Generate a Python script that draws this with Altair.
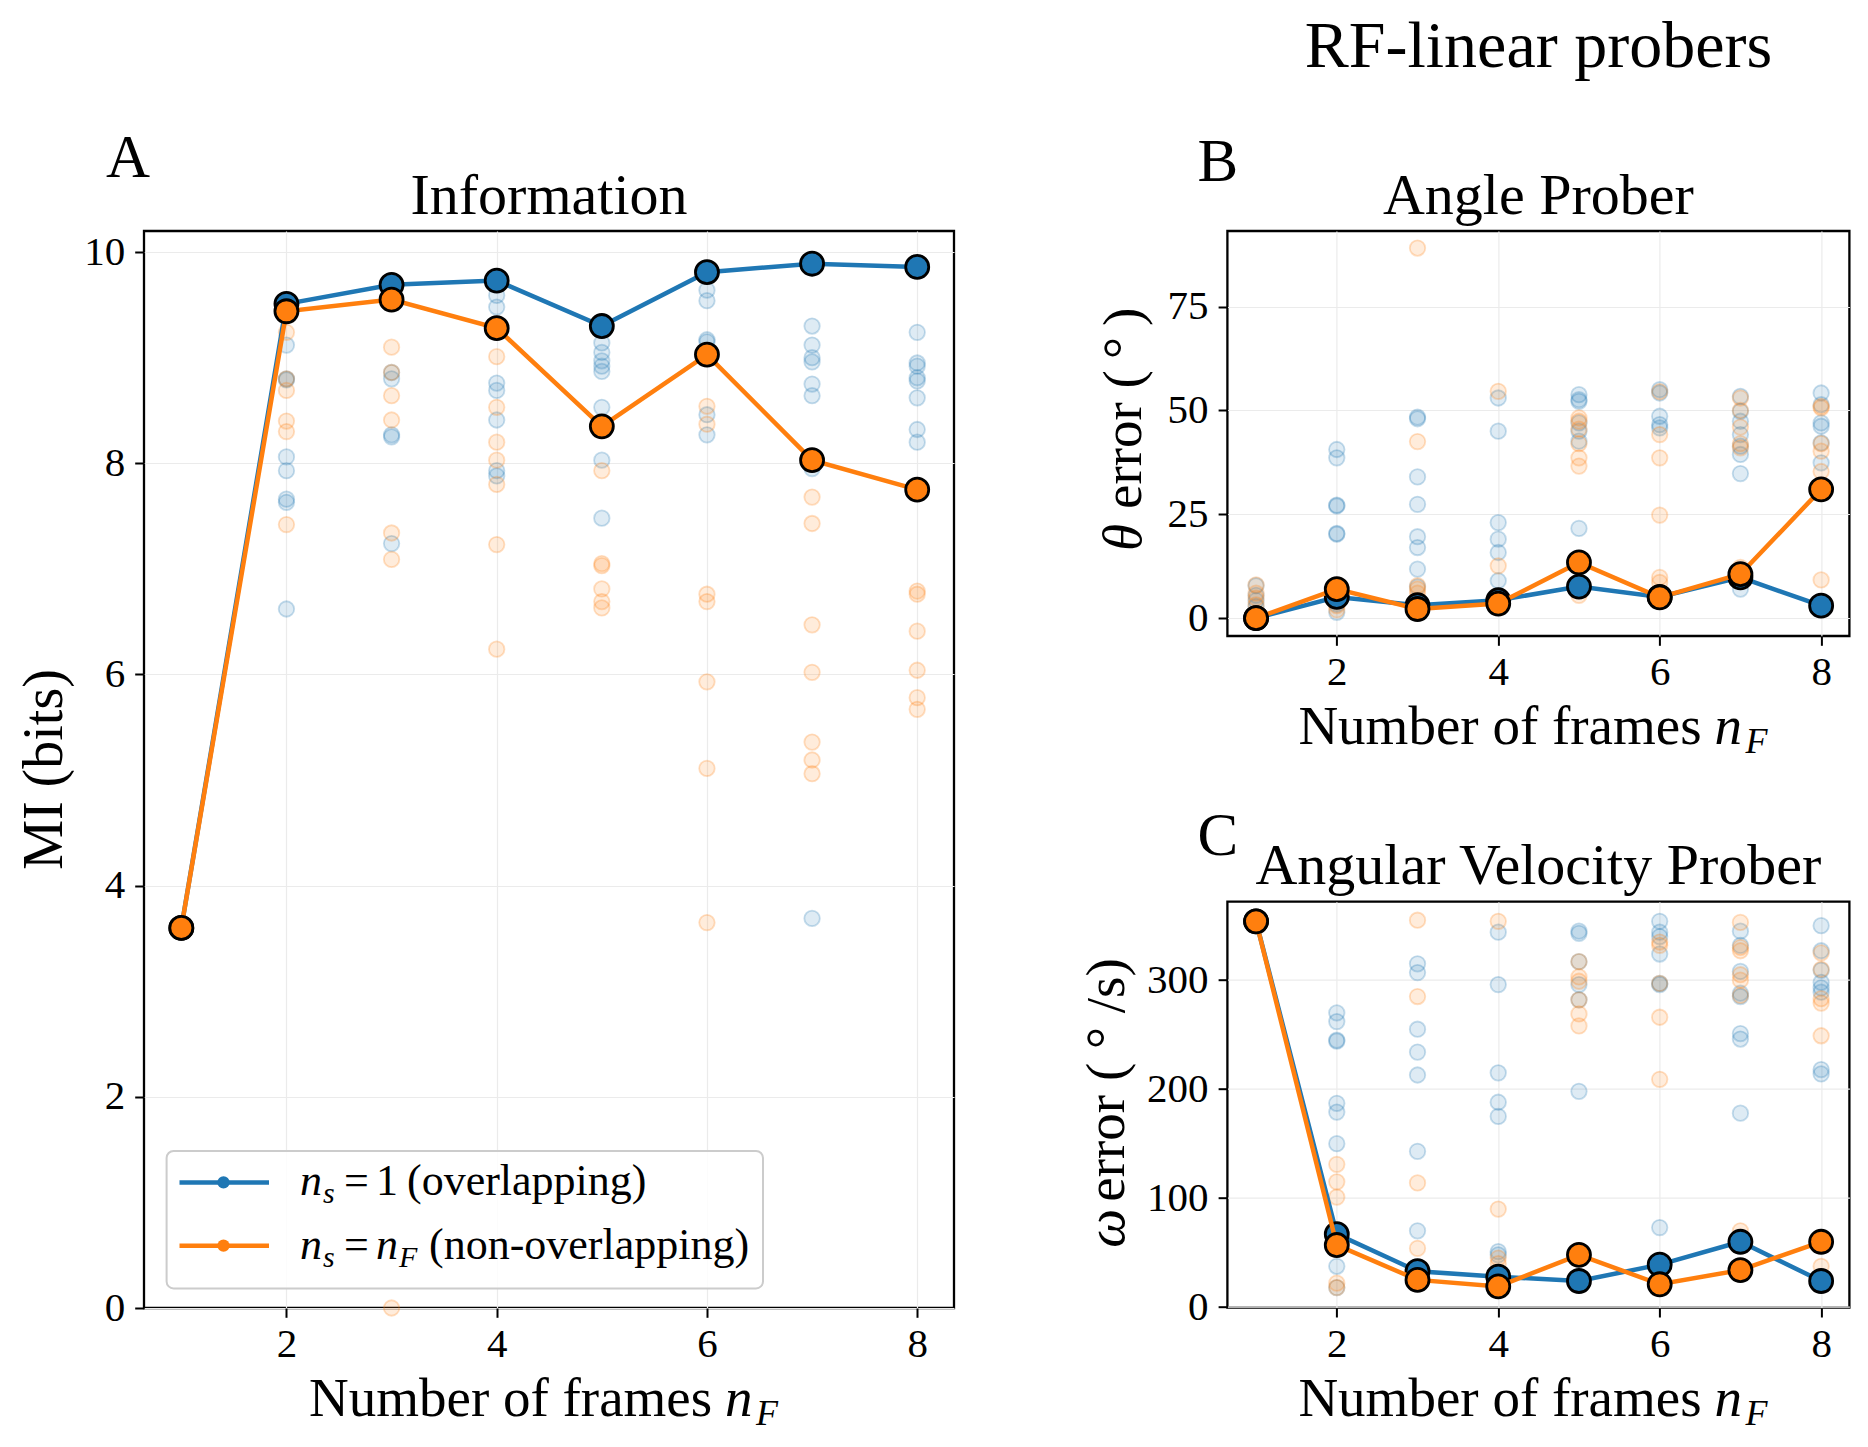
import altair as alt
import pandas as pd

SERIF = "Liberation Serif"
BLUE = "#1f77b4"
ORANGE = "#ff7f0e"

frames = [1, 2, 3, 4, 5, 6, 7, 8]

# mean curves
mi_overlap = [3.60, 9.51, 9.69, 9.73, 9.30, 9.81, 9.89, 9.86]
mi_nonoverlap = [3.60, 9.44, 9.55, 9.28, 8.35, 9.03, 8.03, 7.75]
angle_overlap = [0.0, 5.1, 3.1, 4.3, 7.6, 5.1, 9.8, 3.0]
angle_nonoverlap = [0.0, 7.0, 2.2, 3.5, 13.4, 5.0, 10.6, 31.0]
omega_overlap = [354, 67, 33, 28, 24, 39, 60, 24]
omega_nonoverlap = [354, 57, 25, 19, 48, 21, 34, 60]

# individual runs per number of frames
mi_runs_overlap = {
    1: [3.60],
    2: [9.47, 9.40, 9.12, 8.80, 8.79, 8.06, 7.93, 7.66, 7.63, 6.62],
    3: [9.70, 8.86, 8.80, 8.27, 8.25, 7.24],
    4: [9.59, 9.48, 8.76, 8.69, 8.41, 7.93, 7.88],
    5: [9.14, 9.05, 8.97, 8.92, 8.87, 8.53, 8.03, 7.48],
    6: [9.64, 9.54, 9.17, 9.15, 8.46, 8.27],
    7: [9.30, 9.12, 9.00, 8.96, 8.75, 8.64, 7.95, 3.69],
    8: [9.24, 8.95, 8.92, 8.81, 8.78, 8.62, 8.32, 8.20],
}
mi_runs_nonoverlap = {
    1: [3.60],
    2: [9.24, 8.80, 8.69, 8.40, 8.30, 7.42],
    3: [9.10, 8.86, 8.64, 8.41, 7.34, 7.09, 0.0],
    4: [9.01, 8.53, 8.20, 8.03, 7.80, 7.23, 6.24],
    5: [7.93, 7.05, 7.03, 6.81, 6.69, 6.63],
    6: [8.54, 8.37, 6.76, 6.69, 5.93, 5.11, 3.65],
    7: [7.68, 7.43, 6.47, 6.02, 5.36, 5.19, 5.06],
    8: [6.79, 6.76, 6.41, 6.04, 5.78, 5.67],
}
angle_runs_overlap = {
    1: [7.8, 5.5, 4.2, 2.8],
    2: [40.6, 38.6, 27.2, 27.0, 20.4, 20.2, 3.4, 1.4],
    3: [48.4, 48.0, 34.0, 27.4, 19.6, 17.0, 11.8, 7.5],
    4: [53.0, 45.0, 23.0, 19.0, 15.8, 9.0],
    5: [53.8, 52.6, 52.2, 47.0, 45.0, 42.6, 21.6],
    6: [55.0, 54.2, 48.6, 46.6, 45.8],
    7: [53.4, 49.8, 47.4, 44.2, 41.4, 39.4, 34.8, 7.0],
    8: [54.2, 51.4, 47.0, 46.2, 42.2, 37.4],
}
angle_runs_nonoverlap = {
    1: [8.0, 6.0, 4.8, 3.2],
    2: [4.5, 3.0, 2.0],
    3: [89.1, 42.5, 7.8, 7.0, 6.0],
    4: [54.6, 12.6, 5.0],
    5: [48.2, 47.4, 45.5, 42.0, 38.6, 36.6, 5.5],
    6: [54.5, 44.2, 38.6, 24.8, 9.8, 8.6],
    7: [53.0, 50.0, 46.0, 42.0, 41.0, 12.2],
    8: [51.0, 50.6, 42.0, 40.2, 35.3, 9.2],
}
omega_runs_overlap = {
    1: [354],
    2: [270, 262, 245, 244, 187, 179, 150, 37.5, 18],
    3: [315, 307, 255, 234, 213, 143, 70],
    4: [344, 296, 215, 188, 175, 51, 48],
    5: [345, 343, 317, 296, 282, 198],
    6: [354, 344, 340, 324, 297, 296, 73],
    7: [345, 332, 308, 288, 285, 251, 246, 178],
    8: [350, 327, 309, 298, 293, 289, 218, 214],
}
omega_runs_nonoverlap = {
    1: [354],
    2: [131, 115, 101, 22, 18],
    3: [355, 285, 114, 54],
    4: [354, 90, 45, 40],
    5: [317, 303, 299, 282, 269, 258],
    6: [335, 332, 297, 266, 209],
    7: [353, 330, 327, 305, 300, 286, 70],
    8: [325, 310, 283, 279, 249, 37.5],
}

SERIES = ["overlap", "nonoverlap"]
COLORS = [BLUE, ORANGE]
dummy = pd.DataFrame({"k": [0]})


def runs_frame(runs_o, runs_n):
    rows = []
    for name, runs in zip(SERIES, (runs_o, runs_n)):
        for f, vals in runs.items():
            for v in vals:
                rows.append({"frame": f, "value": v, "series": name})
    return pd.DataFrame(rows)


def label(text, x, y, size, italic=False, angle=0, align="left", baseline="alphabetic"):
    return alt.Chart(dummy).mark_text(
        text=text, font=SERIF, fontSize=size, color="black",
        fontStyle="italic" if italic else "normal",
        angle=angle, align=align, baseline=baseline,
    ).encode(x=alt.value(x), y=alt.value(y))


def x_title(w, h):
    cx, y = w / 2, h + 108
    return [
        label("Number of frames", cx - 240, y, 55),
        label("n", cx + 176, y, 55, italic=True),
        label("F", cx + 207, y + 9, 36, italic=True),
    ]


def panel(mean_o, mean_n, runs_o, runs_n, ydom, yticks):
    x = alt.X("frame:Q", scale=alt.Scale(domain=[0.645, 8.35], nice=False, zero=False),
              axis=alt.Axis(values=[2, 4, 6, 8], title=None, grid=True))
    y = alt.Y("value:Q", scale=alt.Scale(domain=ydom, nice=False, zero=False),
              axis=alt.Axis(values=yticks, title=None, grid=True))
    cscale = alt.Scale(domain=SERIES, range=COLORS)

    runs = alt.Chart(runs_frame(runs_o, runs_n)).mark_circle(
        size=240, fillOpacity=0.15, strokeOpacity=0.25, strokeWidth=1.8
    ).encode(
        x=x, y=y,
        color=alt.Color("series:N", scale=cscale, legend=None),
        stroke=alt.Stroke("series:N", scale=cscale, legend=None),
    )
    layers = [runs]
    for vals, col in ((mean_o, BLUE), (mean_n, ORANGE)):
        df = pd.DataFrame({"frame": frames, "value": vals})
        layers.append(alt.Chart(df).mark_line(color=col, strokeWidth=4.5).encode(x=x, y=y))
        layers.append(alt.Chart(df).mark_circle(
            size=530, color=col, opacity=1, stroke="black", strokeWidth=2.8
        ).encode(x=x, y=y))
    return layers


# ---- A: information ----
WA, HA = 810, 1077
layers_a = panel(mi_overlap, mi_nonoverlap, mi_runs_overlap, mi_runs_nonoverlap,
                 [0, 10.2], [0, 2, 4, 6, 8, 10])

# legend
leg = [
    alt.Chart(dummy).mark_rect(fill="white", fillOpacity=0.85, stroke="#cccccc",
                               strokeWidth=2, cornerRadius=7).encode(
        x=alt.value(22.6), x2=alt.value(619), y=alt.value(920), y2=alt.value(1057.4)),
]
x0 = 156
for ry, col in ((951.4, BLUE), (1014.7, ORANGE)):
    leg.append(alt.Chart(dummy).mark_rule(color=col, strokeWidth=4.5).encode(
        x=alt.value(35.5), x2=alt.value(125), y=alt.value(ry)))
    leg.append(alt.Chart(dummy).mark_circle(color=col, size=150, opacity=1).encode(
        x=alt.value(79.5), y=alt.value(ry)))
yb1, yb2 = 951.4 + 13, 1014.7 + 13
leg += [
    label("n", x0, yb1, 44, italic=True),
    label("s", x0 + 23, yb1 + 8, 30, italic=True),
    label("=", x0 + 44, yb1, 44),
    label("1", x0 + 76, yb1, 44),
    label("(overlapping)", x0 + 107, yb1, 44),
    label("n", x0, yb2, 44, italic=True),
    label("s", x0 + 23, yb2 + 8, 30, italic=True),
    label("=", x0 + 44, yb2, 44),
    label("n", x0 + 76, yb2, 44, italic=True),
    label("F", x0 + 99, yb2 + 8, 30, italic=True),
    label("(non-overlapping)", x0 + 129, yb2, 44),
]

# frame that fixes the outer margin of the figure
margin_a = alt.Chart(dummy).mark_rect(opacity=0).encode(
    x=alt.value(-142), x2=alt.value(0), y=alt.value(-229.3), y2=alt.value(0))

chart_a = alt.layer(
    margin_a, *layers_a, *leg,
    label("Information", WA / 2, -17.3, 58, align="center"),
    label("A", -38, -54.3, 61),
    label("MI (bits)", -99, HA / 2, 56, angle=270, align="center", baseline="middle"),
    *x_title(WA, HA),
).properties(width=WA, height=HA)

# ---- B: angle prober ----
WB, HB = 622, 405
layers_b = panel(angle_overlap, angle_nonoverlap, angle_runs_overlap, angle_runs_nonoverlap,
                 [-4.3, 93.2], [0, 25, 50, 75])
chart_b = alt.layer(
    *layers_b,
    label("RF-linear probers", WB / 2, -163.8, 66, align="center"),
    label("Angle Prober", WB / 2, -17.3, 58, align="center"),
    label("B", -30, -50, 61),
    label("\u03b8", -103, 320, 55, italic=True, angle=270, baseline="middle"),
    label("error (\u2009\u00b0\u2009)", -103, 278, 55, angle=270, baseline="middle"),
    *x_title(WB, HB),
).properties(width=WB, height=HB)

# ---- C: angular velocity prober ----
WC, HC = 622, 406
layers_c = panel(omega_overlap, omega_nonoverlap, omega_runs_overlap, omega_runs_nonoverlap,
                 [-0.5, 372], [0, 100, 200, 300])
chart_c = alt.layer(
    *layers_c,
    label("Angular Velocity Prober", WC / 2, -17.3, 58, align="center"),
    label("C", -30, -47, 61),
    label("\u03c9", -120, 346, 55, italic=True, angle=270, baseline="middle"),
    label("error ( \u00b0 /s)", -120, 300, 55, angle=270, baseline="middle"),
    *x_title(WC, HC),
).properties(width=WC, height=HC)

right = alt.vconcat(chart_b, chart_c, spacing=265.7, bounds="flush")
chart = alt.hconcat(chart_a, right, spacing=273.4, bounds="flush").properties(
    padding=0, background="white"
).configure_view(
    stroke="black", strokeWidth=2.3
).configure_axis(
    labelFont=SERIF, labelFontSize=41, labelColor="black",
    tickColor="black", tickSize=9.3, tickWidth=2, domain=False,
    gridColor="#ebebeb", gridWidth=1.2,
).configure_axisX(labelPadding=7).configure_axisY(labelPadding=10)

chart.save("out.html", embed_options={"renderer": "svg", "actions": False})
